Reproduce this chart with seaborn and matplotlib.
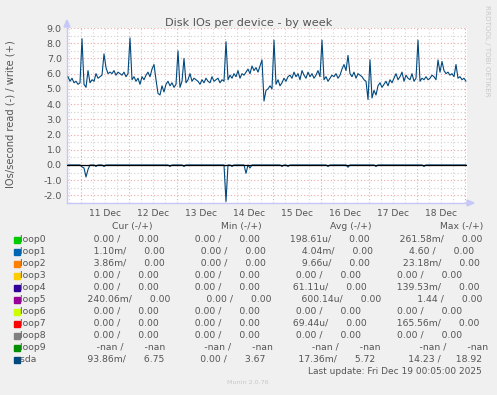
import numpy as np
import pandas as pd
import matplotlib
matplotlib.use("Agg")
import matplotlib.pyplot as plt
import matplotlib.dates as mdates
from matplotlib.ticker import FuncFormatter, MultipleLocator, NullFormatter
from matplotlib.patches import Rectangle, Polygon
from matplotlib.lines import Line2D
import seaborn as sns

# ---------------- data ----------------
start_time = "2025-12-10 17:30"
sda_write = [
    5.8, 5.5, 5.7, 5.4, 5.5, 5.3, 5.4, 8.3, 5.3, 5.1,
    6.2, 5.4, 5.6, 5.5, 6.0, 5.7, 5.8, 5.9, 7.3, 6.4,
    6.0, 6.1, 6.0, 6.2, 5.9, 6.1, 6.0, 5.9, 6.1, 5.8,
    6.0, 8.35, 5.6, 5.8, 5.5, 5.7, 5.3, 5.8, 5.6, 5.9,
    6.1, 5.8, 6.3, 6.6, 5.6, 4.7, 4.6, 5.2, 4.8, 5.3,
    5.5, 5.2, 5.4, 5.1, 5.3, 7.5, 5.1, 5.5, 7.0, 5.4,
    5.6, 6.0, 5.5, 5.7, 5.6, 5.5, 5.3, 5.6, 5.4, 5.7,
    5.5, 5.4, 5.8, 5.5, 5.6, 5.7, 5.4, 5.6, 5.5, 8.1,
    5.6, 5.9, 5.7, 6.0, 5.8, 6.2, 5.7, 6.0, 5.9, 6.1,
    6.3, 6.0, 6.5, 6.2, 6.4, 6.1, 6.5, 6.9, 4.2, 4.9,
    5.0, 5.2, 5.0, 8.2, 5.3, 5.6, 5.2, 5.4, 5.7, 5.5,
    5.8, 5.9, 5.7, 6.1, 5.8, 6.0, 5.6, 6.2, 5.9, 5.7,
    6.1, 5.8, 6.0, 5.7, 5.9, 6.2, 5.8, 8.2, 5.6, 5.8,
    5.5, 5.7, 5.9, 5.8, 6.0, 5.7, 5.9, 6.3, 6.6, 6.2,
    7.2, 6.0, 5.8, 6.1, 5.7, 6.0, 5.9, 5.8, 5.6, 5.5,
    4.3, 6.9, 4.4, 4.9, 4.6, 5.2, 5.4, 5.1, 5.3, 5.5,
    5.2, 5.6, 5.4, 5.7, 6.0, 5.6, 5.8, 6.1, 5.5, 5.9,
    5.7, 5.6, 6.0, 5.5, 5.7, 8.2, 5.5, 5.7, 5.6, 5.8,
    5.6, 5.7, 5.9, 5.8, 5.6, 6.9, 6.1, 6.8, 6.2, 6.0,
    6.1, 5.9, 6.0, 5.8, 6.6, 5.7, 5.8, 5.6, 5.7, 5.5,
]
sda_read = [0.0] * 200
for _h, _v in [(7, 0.13), (8, 0.2), (9, 0.79), (10, 0.3), (14, 0.1), (18, 0.1),
               (51, 0.1), (58, 0.1), (79, 2.4), (82, 0.1), (89, 0.55), (91, 0.2),
               (107, 0.1), (110, 0.1), (130, 0.1), (140, 0.15), (154, 0.1), (178, 0.1)]:
    sda_read[_h] = _v

devices = ["loop0", "loop1", "loop2", "loop3", "loop4", "loop5", "loop6",
           "loop7", "loop8", "loop9", "sda"]
dev_colors = ["#00CC00", "#0066B3", "#FF8000", "#FFCC00", "#330099", "#990099",
              "#CCFF00", "#FF0000", "#808080", "#008F00", "#00487D"]
cur_read = ["0.00", "1.10m", "3.86m", "0.00", "0.00", "240.06m", "0.00", "0.00", "0.00", "-nan", "93.86m"]
cur_write = ["0.00", "0.00", "0.00", "0.00", "0.00", "0.00", "0.00", "0.00", "0.00", "-nan", "6.75"]
min_read = ["0.00"] * 9 + ["-nan", "0.00"]
min_write = ["0.00"] * 9 + ["-nan", "3.67"]
avg_read = ["198.61u", "4.04m", "9.66u", "0.00", "61.11u", "600.14u", "0.00", "69.44u", "0.00", "-nan", "17.36m"]
avg_write = ["0.00"] * 9 + ["-nan", "5.72"]
max_read = ["261.58m", "4.60", "23.18m", "0.00", "139.53m", "1.44", "0.00", "165.56m", "0.00", "-nan", "14.23"]
max_write = ["0.00"] * 9 + ["-nan", "18.92"]
col_headers = ["Cur (-/+)", "Min (-/+)", "Avg (-/+)", "Max (-/+)"]

# ---------------- figure ----------------
W, H = 497, 395
sns.set_theme(style="white")
plt.rcParams["font.family"] = ["DejaVu Sans"]
fig = plt.figure(figsize=(W / 100, H / 100), dpi=100, facecolor="#F0F0F0")

def fx(x):
    return x / W

def fy(y):
    return 1 - y / H

L, R, T, B = 67, 467, 28, 203
ax = fig.add_axes([fx(L), fy(B), (R - L) / W, (B - T) / H])
ax.set_facecolor("white")

times = pd.date_range(start_time, periods=len(sda_write), freq="h")
df = pd.DataFrame({"time": times, "write": sda_write,
                   "read": [-v for v in sda_read]})

sns.lineplot(data=df, x="time", y="write", ax=ax, color="#00487D", lw=0.8, zorder=4)
sns.lineplot(data=df, x="time", y="read", ax=ax, color="#00487D", lw=0.8, zorder=4)
ax.axhline(0, color="black", lw=0.9, zorder=5)

ax.set_xlim(pd.Timestamp("2025-12-10 17:00"), pd.Timestamp("2025-12-19 01:00"))
ax.set_ylim(-2.5, 9.0)

txt = "#555555"
ax.yaxis.set_major_locator(MultipleLocator(1.0))
ax.yaxis.set_minor_locator(MultipleLocator(0.5))
ax.yaxis.set_major_formatter(FuncFormatter(lambda v, p: f"{v:.1f}"))

ax.xaxis.set_major_locator(mdates.DayLocator())
ax.xaxis.set_major_formatter(NullFormatter())
ax.xaxis.set_minor_locator(mdates.HourLocator(byhour=[0, 6, 12, 18]))

def _minor_fmt(v, p):
    d = mdates.num2date(v)
    return d.strftime("%d %b") if d.hour == 12 else ""

ax.xaxis.set_minor_formatter(FuncFormatter(_minor_fmt))

red_grid = "#EBA8A8"
gray_grid = "#D2D2D2"
ax.grid(which="major", color=red_grid, lw=0.8, ls=(0, (1, 2)), zorder=0)
ax.grid(which="minor", color=gray_grid, lw=0.8, ls=(0, (1, 2)), zorder=0)
ax.set_axisbelow(True)

ax.tick_params(axis="both", which="major", length=1.6, width=0.8, color=red_grid,
               labelsize=6.8, labelcolor=txt, pad=2.2, direction="out")
ax.tick_params(axis="both", which="minor", length=1.6, width=0.8, color=gray_grid,
               labelsize=6.6, labelcolor=txt, pad=2.6, direction="out")
ax.tick_params(axis="x", which="major", labelbottom=False)

for s in ["top", "right"]:
    ax.spines[s].set_visible(False)
axis_col = "#C8C8F8"
for s in ["left", "bottom"]:
    ax.spines[s].set_color(axis_col)
    ax.spines[s].set_linewidth(1.0)
ax.set_xlabel("")
ax.set_ylabel("")

# axis extensions with arrow heads
fig.add_artist(Line2D([fx(L), fx(L)], [fy(T), fy(22)], color=axis_col, lw=1.0,
                      transform=fig.transFigure))
fig.add_artist(Polygon([[fx(L), fy(20)], [fx(L - 3), fy(27)], [fx(L + 3), fy(27)]],
                       closed=True, color=axis_col, transform=fig.transFigure))
fig.add_artist(Line2D([fx(R), fx(470)], [fy(B), fy(B)], color=axis_col, lw=1.0,
                      transform=fig.transFigure))
fig.add_artist(Polygon([[fx(474), fy(B)], [fx(467), fy(B - 3)], [fx(467), fy(B + 3)]],
                       closed=True, color=axis_col, transform=fig.transFigure))

# titles
fig.text(fx(248.5), fy(26), "Disk IOs per device - by week", ha="center",
         va="baseline", fontsize=8.1, color=txt)
fig.text(fx(11), fy(114), "IOs/second read (-) / write (+)", rotation=90,
         ha="center", va="center", fontsize=7.1, color=txt)
fig.text(fx(487), fy(5), "RRDTOOL / TOBI OETIKER", rotation=270, ha="center",
         va="top", fontsize=5.1, color="#C8C8C8")

# legend
hx = [112, 221, 330, 440]
for x, h in zip(hx, col_headers):
    fig.text(fx(x), fy(227), h, ha="left", va="center", fontsize=6.65, color=txt)

def cell(v, slash):
    if v == "-nan":
        s = v.rjust(7) + " "
    elif v[-1] in "mu":
        s = v[:-1].rjust(6) + v[-1]
    else:
        s = v.rjust(6) + " "
    return s + "/" if slash else s

for i, name in enumerate(devices):
    y = 239.5 + 12 * i
    fig.add_artist(Rectangle((fx(14), fy(y + 3)), 5.5 / W, 5.5 / H,
                             color=dev_colors[i], transform=fig.transFigure))
    sep_a = " " * 4
    sep_b = " " * 9
    row = name.ljust(5) + " " * 14
    row += cell(cur_read[i], True) + sep_a + cell(cur_write[i], False) + sep_b
    row += cell(min_read[i], True) + sep_a + cell(min_write[i], False) + sep_b
    row += cell(avg_read[i], True) + sep_a + cell(avg_write[i], False) + sep_b
    row += cell(max_read[i], True) + sep_a + cell(max_write[i], False).rstrip()
    fig.text(fx(20), fy(y), row, ha="left", va="center", fontsize=6.65, color=txt)

fig.text(fx(482), fy(371), "Last update: Fri Dec 19 00:05:00 2025", ha="right",
         va="center", fontsize=6.5, color=txt)
fig.text(fx(248), fy(383), "Munin 2.0.76", ha="center", va="center",
         fontsize=4.6, color="#C8C8C8")

fig.savefig("out.png", dpi=100, facecolor=fig.get_facecolor())
